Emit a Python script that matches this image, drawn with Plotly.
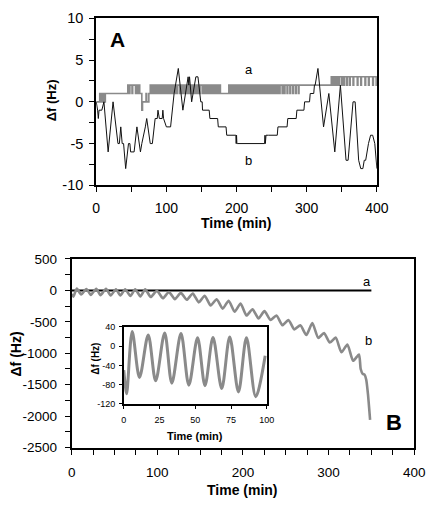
import plotly.graph_objects as go

W, H = 439, 514
def px(x): return x / W
def py(y): return 1 - y / H

# ---------------- Panel A data ----------------
# series a: one sample per minute, 0..400 min (Hz)
a_A_vals = [
    0,0,0,0,0,1,0,1,1,0,1,0,0,1,1,1,1,1,1,1,
    1,1,1,1,1,1,1,1,1,1,1,1,1,1,1,1,1,1,1,1,
    1,1,1,1,1,2,2,1,2,2,2,1,2,2,2,2,1,2,2,1,
    2,2,1,1,1,-1,0,0,0,0,0,1,0,0,0,1,1,2,1,2,
    2,1,2,2,1,2,1,2,2,1,2,1,2,2,1,2,1,1,2,1,
    2,2,1,2,1,2,2,1,2,1,1,2,2,1,2,1,2,2,2,1,
    2,1,2,1,2,2,1,2,1,2,2,1,1,2,1,2,2,1,2,2,
    1,2,1,2,2,1,2,1,2,2,2,1,2,2,1,2,1,2,2,1,
    2,2,1,2,1,2,2,1,2,2,1,2,2,1,2,1,2,1,1,1,
    1,1,1,1,1,1,1,1,1,2,1,1,2,1,1,2,1,2,1,1,
    2,1,1,2,1,2,1,1,2,1,2,1,1,2,1,2,1,1,2,1,
    2,1,2,1,1,2,1,2,1,1,2,1,2,1,2,1,1,2,1,2,
    1,2,1,1,2,1,2,1,2,2,1,2,1,2,2,1,2,2,1,2,
    2,1,2,2,2,1,2,2,1,2,2,2,1,2,2,2,1,2,2,2,
    1,2,2,2,1,2,2,2,1,2,2,2,2,2,2,2,2,2,2,2,
    2,2,2,2,2,2,2,2,2,2,2,2,2,2,2,2,2,2,2,2,
    2,2,2,2,2,2,2,2,2,2,2,2,2,2,2,3,2,3,2,3,
    3,2,3,3,2,3,2,3,3,3,2,3,3,2,3,3,3,2,3,3,
    3,2,3,3,3,3,2,3,3,3,3,3,2,3,3,3,3,2,3,3,
    3,3,3,2,3,3,3,3,2,3,3,3,3,3,2,3,3,3,3,2,
    3,
]
a_A_time = list(range(len(a_A_vals)))

# series b: turning points (min, Hz)
b_A_time = [0, 2, 3, 4, 8, 11, 17, 24, 31, 33, 35, 37, 39, 42, 46, 48, 49, 54, 58,
            63, 65, 70, 72, 77, 80, 84, 87, 88, 90, 94, 95, 96, 100, 106,
            111, 117, 123.5, 131, 132, 133, 136, 142, 145, 149, 151, 151.5, 161, 162,
            173, 174, 185, 186, 199, 199.5, 200, 200.5, 201, 240, 240.5, 241, 242, 245, 246,
            258, 259, 272, 273, 285, 286, 296, 297, 304, 305, 310, 311, 312,
            316, 324, 331.5, 340, 348, 356, 359, 366, 369, 374, 377, 380, 382,
            384, 388, 391, 394, 397, 400]
b_A_vals = [0, -1, -2, -1, -1, 0, -6, 0, -5, -5, -3, -5, -5, -8, -5, -5, -6, -6, -3,
            -6, -5, -3, -2, -5, -5, -2, -2, -1, -2, -2, -1, -2, -3, -3,
            1, 4, -1, 3, 2, 3, 0, 3, 3, 0, 0, -1, -1, -2,
            -2, -3, -3, -4, -4, -5, -4, -5, -5, -5, -4, -5, -4, -4, -4,
            -4, -3, -3, -2, -2, -1, -1, 0, 0, 1, 1, 2, 2,
            4, -3, 1, -6, 2, -7, -7, 0, 0, -7, -8, -8, -7,
            -7, -5, -4, -4, -5, -8]

A_xticks = [0, 100, 200, 300, 400]
A_yticks = [-10, -5, 0, 5, 10]
A_yticktext = ["-10", "-5", "0", "5", "10"]

# ---------------- Panel B data ----------------
a_B_time = [0, 350]
a_B_vals = [0, 0]

b_B_time = [0, 2, 5.9, 11, 17.1, 22.3, 28.6, 33.6, 40, 45.5, 51.6, 56.8, 62.4, 68.5,
            74.1, 80.2, 85.8, 92.3, 99.5, 106.5, 113.5, 120.5, 127.4, 134.4, 141.4,
            148.4, 155.3, 162.3, 169.3, 176.3, 183.3, 190.3, 197.2, 204.2, 211.2,
            218.2, 225.1, 232.1, 239.1, 246.1, 253.1, 260, 267, 274, 281, 288,
            294.7, 301.5, 308.3, 315, 322, 328.7, 335.5, 337.5, 340, 342, 344, 346, 348.5]
b_B_vals = [-60, -99, 30, -65, 23, -72, 27, -77, 26, -81, 17, -82, 18, -88,
            19, -95, 17, -105, -5, -125, -25, -140, -40, -150, -50,
            -190, -85, -240, -140, -290, -165, -340, -210, -400, -300,
            -445, -330, -470, -400, -555, -470, -620, -555, -710, -520, -755,
            -680, -830, -750, -985, -860, -1120, -1020, -1250, -1330, -1340, -1420, -1650, -2060]

B_xticks = [0, 100, 200, 300, 400]
B_yticks = [-2500, -2000, -1500, -1000, -500, 0, 500]
B_yticktext = ["-2500", "-2000", "-1500", "-1000", "-500", "0", "500"]

# ---------------- Inset data ----------------
in_time = [0, 1, 2, 5.9, 11, 17.1, 22.3, 28.6, 33.6, 40, 45.5, 51.6, 56.8, 62.4,
           68.5, 74.1, 80.2, 85.8, 92.3, 98.9]
in_vals = [-50, -80, -99, 30, -65, 23, -72, 27, -77, 26, -81, 17, -82, 18,
           -88, 19, -95, 17, -105, -20]
in_xticks = [0, 25, 50, 75, 100]
in_yticks = [-120, -80, -40, 0, 40]
in_yticktext = ["-120", "-80", "-40", "0", "40"]

FONT = "Arial, Liberation Sans, sans-serif"
GRAY = "#8a8a8a"

fig = go.Figure()
fig.add_trace(go.Scatter(x=a_A_time, y=a_A_vals, mode="lines",
                         line=dict(color=GRAY, width=1.6, shape="hv", simplify=False),
                         xaxis="x", yaxis="y", showlegend=False))
fig.add_trace(go.Scatter(x=b_A_time, y=b_A_vals, mode="lines",
                         line=dict(color="#111111", width=1, simplify=False),
                         xaxis="x", yaxis="y", showlegend=False))
fig.add_trace(go.Scatter(x=a_B_time, y=a_B_vals, mode="lines", line=dict(color="black", width=2),
                         xaxis="x2", yaxis="y2", showlegend=False))
fig.add_trace(go.Scatter(x=b_B_time, y=b_B_vals, mode="lines",
                         line=dict(color=GRAY, width=2.6, shape="spline", smoothing=0.6, simplify=False),
                         xaxis="x2", yaxis="y2", showlegend=False))
fig.add_trace(go.Scatter(x=in_time, y=in_vals, mode="lines",
                         line=dict(color=GRAY, width=3, shape="spline", smoothing=0.9, simplify=False),
                         xaxis="x3", yaxis="y3", showlegend=False))

def ax(domain, rng, tickvals, ticktext, fs, lw, minor_dtick=None, anchor=None, ticklen=5, standoff=3):
    d = dict(domain=domain, range=rng, tickvals=tickvals, ticktext=ticktext,
             tickfont=dict(family=FONT, size=fs, color="black"),
             showline=True, mirror=True, linecolor="black", linewidth=lw,
             ticks="outside", ticklen=ticklen, tickwidth=1.3, tickcolor="black",
             showgrid=False, zeroline=False, anchor=anchor, ticklabelstandoff=standoff)
    if minor_dtick:
        d["minor"] = dict(dtick=minor_dtick, tick0=0, ticks="outside", ticklen=ticklen,
                          tickwidth=1.3, tickcolor="black", showgrid=False)
    return d

layout = dict(
    width=W, height=H, margin=dict(l=0, r=0, t=0, b=0),
    paper_bgcolor="white", plot_bgcolor="white", showlegend=False,
    xaxis=ax([px(95.7), px(387)], [0, 400], A_xticks, [str(v) for v in A_xticks], 14, 2, 50, "y", standoff=4),
    yaxis=ax([py(183), py(10.7)], [-10, 10], A_yticks, A_yticktext, 14.5, 2, 2.5, "x", standoff=3),
    xaxis2=ax([px(70.3), px(425.7)], [0, 400], B_xticks, [str(v) for v in B_xticks], 13.5, 2, 25, "y2", standoff=6),
    yaxis2=ax([py(453.7), py(259)], [-2500, 500], B_yticks, B_yticktext, 13.5, 2, 250, "x2", standoff=5),
    xaxis3=ax([px(124.3), px(272.7)], [0, 100], in_xticks, [str(v) for v in in_xticks], 9, 1.5, None, "y3", ticklen=3, standoff=3),
    yaxis3=ax([py(408.7), py(329)], [-120, 40], in_yticks, in_yticktext, 9, 1.5, None, "x3", ticklen=3, standoff=2),
)

def ann(text, x, y, size, bold=False, angle=0):
    return dict(text=("<b>%s</b>" % text) if bold else text, x=px(x), y=py(y), xref="paper", yref="paper",
                showarrow=False, textangle=angle, xanchor="center", yanchor="middle",
                font=dict(family=FONT, size=size, color="black"))

layout["annotations"] = [
    ann("Δf (Hz)", 49, 95, 13, True, -90),
    ann("Time (min)", 241, 222, 14, True),
    ann("A", 118, 33, 21, True),
    ann("a", 254, 63, 13),
    ann("b", 254, 157, 13),
    ann("Δf (Hz)", 12, 357, 14, True, -90),
    ann("Time (min)", 248, 498, 14, True),
    ann("B", 405, 428, 22, True),
    ann("a", 377, 282, 13),
    ann("b", 378, 343, 13),
    ann("Δf (Hz)", 95.5, 362, 10, True, -90),
    ann("Time (min)", 198, 442, 11, True),
]

fig.update_layout(**layout)
fig.write_html("out.html")
